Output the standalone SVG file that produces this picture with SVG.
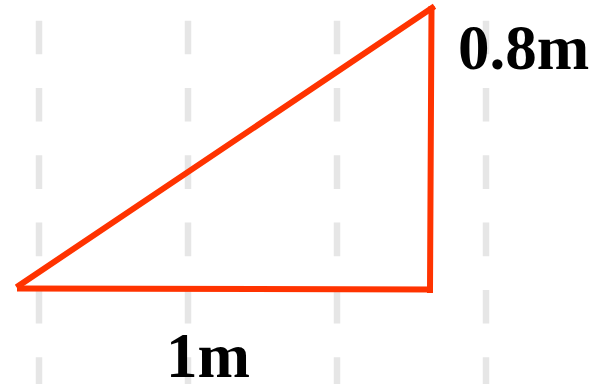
<svg xmlns="http://www.w3.org/2000/svg" width="603" height="384" viewBox="0 0 603 384">
  <style>
    .grid { stroke: #e6e6e6; stroke-width: 6.5; stroke-dasharray: 33.6 33.7; fill: none; }
    .edge { stroke: #ff3300; stroke-width: 6; fill: none; stroke-linecap: square; }
    .label { font-family: "Liberation Serif", "Times New Roman", serif; font-weight: bold; font-size: 63px; fill: #000000; }
  </style>
  <rect x="0" y="0" width="603" height="384" fill="#ffffff"/>
  <g id="grid">
    <line class="grid" x1="39" y1="20.7" x2="39" y2="384"/>
    <line class="grid" x1="188" y1="20.7" x2="188" y2="384"/>
    <line class="grid" x1="337" y1="20.7" x2="337" y2="384"/>
    <line class="grid" x1="486" y1="20.7" x2="486" y2="384"/>
  </g>
  <g id="connectors">
    <line class="edge" x1="19" y1="285.5" x2="432" y2="8"/>
    <line class="edge" x1="431.5" y1="9" x2="430" y2="290"/>
    <line class="edge" x1="20" y1="288.5" x2="430" y2="289.5"/>
  </g>
  <g id="label-height">
    <text class="label" x="458" y="69">0.8m</text>
  </g>
  <g id="label-width">
    <text class="label" x="166" y="377">1m</text>
  </g>
</svg>
